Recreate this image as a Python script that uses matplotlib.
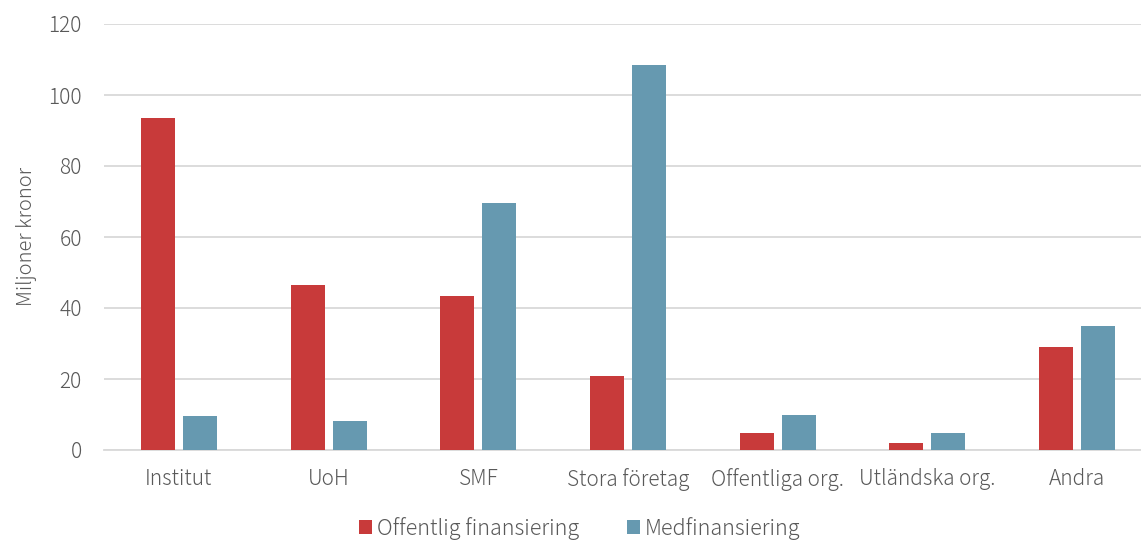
import matplotlib
matplotlib.use("Agg")
import matplotlib.pyplot as plt
import numpy as np

categories = ["Institut", "UoH", "SMF", "Stora företag", "Offentliga org.", "Utländska org.", "Andra"]
offentlig = [93.6, 46.5, 43.4, 20.8, 4.8, 2.0, 29.0]
medfin = [9.6, 8.2, 69.6, 108.5, 9.9, 4.8, 34.9]
series_names = ["Offentlig finansiering", "Medfinansiering"]

plt.rcParams['font.family'] = ['Noto Sans CJK JP', 'DejaVu Sans']
plt.rcParams['font.weight'] = 300
plt.rcParams['axes.labelweight'] = 300
txt = "#595959"

fig = plt.figure(figsize=(11.41, 5.4), dpi=100)
ax = fig.add_axes([104/1141, 90/540, 1048/1141, 426/540])

x = np.arange(len(categories))
w = 0.227
off = 0.14
ax.bar(x - off, offentlig, w, color="#C83A3A", label=series_names[0], zorder=3)
ax.bar(x + off, medfin, w, color="#6699B0", label=series_names[1], zorder=3)

ax.set_xlim(-0.5, len(categories) - 0.5)
ax.set_ylim(0, 120)
ax.set_yticks(np.arange(0, 121, 20))
ax.set_xticks(x)
ax.set_xticklabels(categories)
ax.yaxis.grid(True, color="#D9D9D9", linewidth=1.3, zorder=0)
for s in ["top", "right", "left"]:
    ax.spines[s].set_visible(False)
ax.spines["bottom"].set_color("#D9D9D9")
ax.spines["bottom"].set_linewidth(1.3)
ax.tick_params(axis="both", length=0, colors=txt, labelsize=15)
ax.tick_params(axis="x", pad=13)
ax.tick_params(axis="y", pad=16)
ax.set_ylabel("Miljoner kronor", color=txt, fontsize=14.5, labelpad=8, fontweight=300)

leg = fig.legend(loc="lower center", bbox_to_anchor=(0.508, -0.035), ncol=2, frameon=False,
                 fontsize=15.5, handlelength=0.6, handleheight=0.6, handletextpad=0.25, columnspacing=2.2)
for t in leg.get_texts():
    t.set_color(txt)

fig.savefig("out.png", dpi=100)
